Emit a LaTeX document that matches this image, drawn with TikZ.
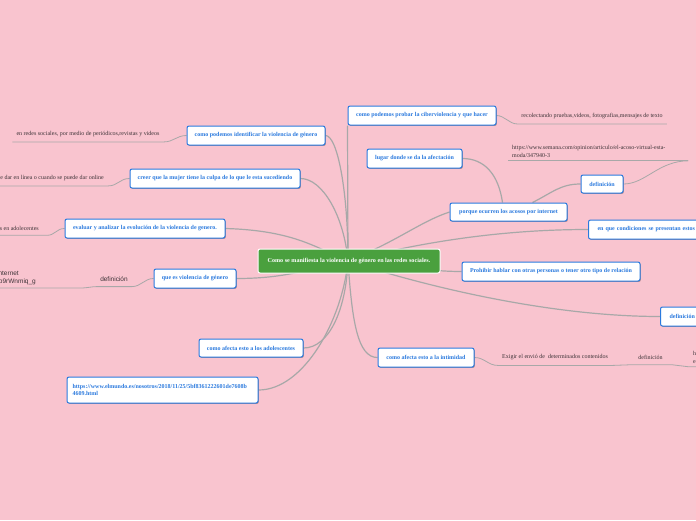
\documentclass[tikz,border=0pt]{standalone}
\usepackage{fontspec}
\setmainfont{Liberation Serif}
\newfontfamily\sanshoja{Liberation Sans}
\usetikzlibrary{shadows}

\definecolor{rosafondo}{RGB}{249,196,207}
\definecolor{azultema}{RGB}{43,122,222}
\definecolor{verdecentro}{RGB}{74,160,62}
\definecolor{gristrazo}{RGB}{168,168,168}
\definecolor{textohoja}{RGB}{62,52,56}

\pgfdeclarelayer{capafondo}
\pgfdeclarelayer{capalineas}
\pgfsetlayers{capafondo,capalineas,main}

\tikzset{
  tema/.style={draw=azultema, line width=1pt, fill=white, rounded corners=2pt,
    text=azultema, font=\fontsize{6}{7.6}\selectfont\bfseries,
    minimum height=19pt, inner xsep=3pt, inner ysep=2pt,
    drop shadow={shadow xshift=0.8pt, shadow yshift=-0.9pt, opacity=0.3, fill=black}},
  centro/.style={draw=white, line width=1pt, fill=verdecentro, rounded corners=2pt,
    text=white, font=\fontsize{6.1}{7.2}\selectfont\bfseries,
    minimum height=24pt, minimum width=182pt},
  hoja/.style={text=textohoja, font=\fontsize{6}{8}\selectfont,
    inner xsep=4pt, inner ysep=5pt},
  rama/.style={draw=gristrazo, line width=1.2pt},
  subraya/.style={draw=gristrazo, line width=0.8pt},
}

\begin{document}
\begin{tikzpicture}[x=1pt,y=-1pt]
    % Fondo
    \begin{pgfonlayer}{capafondo}
      \fill[rosafondo] (0,0) rectangle (696,520);
    \end{pgfonlayer}
    \useasboundingbox (0,0) rectangle (696,520);

    % Tema central
    \node[centro] (central) at (349,261) {Como se manifiesta la violencia de género en las redes sociales.};
    \coordinate (nudo) at (348,261);

    % Ramas de la izquierda
    \node[tema, minimum width=138pt] (identificar) at (256,135.5) {como podemos identificar la violencia de género};
    \node[tema, minimum width=170pt] (culpa) at (215,178.5) {creer que la mujer tiene la culpa de lo que le esta sucediendo};
    \node[tema, minimum width=160pt] (evaluar) at (145,228.5) {evaluar y analizar la evolución de la violencia de genero.};
    \node[tema, minimum width=82pt] (quees) at (195,278.5) {que es violencia de género};
    \node[tema, minimum width=104pt, minimum height=18pt] (adolescentes) at (251,348) {como afecta esto a los adolescentes};
    \node[tema, minimum width=191pt, minimum height=26pt, text width=180pt, align=left] (elmundo) at (162.5,390)
      {https://www.elmundo.es/nosotros/2018/11/25/5bf8361222601de7608b\\4609.html};

    % Ramas de la derecha
    \node[tema, minimum width=148pt] (probar) at (422,115.5) {como podemos probar la ciberviolencia y que hacer};
    \node[tema, minimum width=95pt] (lugar) at (414.5,158.5) {lugar donde se da la afectación};
    \node[tema, minimum width=117pt, minimum height=18pt] (porque) at (508.5,212) {porque ocurren los acosos por internet};
    \node[tema, minimum width=42pt, minimum height=18pt] (defuno) at (602,184) {definición};
    \node[tema, anchor=west, text width=140pt, align=left, inner xsep=9pt] (condiciones) at (588,229.5) {en que condiciones se presentan estos c};
    \node[tema, minimum width=178pt] (prohibir) at (551,271.5) {Prohibir hablar con otras personas o tener otro tipo de relación};
    \node[tema, anchor=west, text width=50pt, align=left, inner xsep=9pt] (defdos) at (660,316.5) {definición};
    \node[tema, minimum width=96pt] (intimidad) at (426,357.5) {como afecta esto a la intimidad};

    % Hojas de texto
    \node[hoja] (redes) at (88,134) {en redes sociales, por medio de periódicos,revistas y videos};
    \node[hoja, anchor=east] (enlinea) at (108,178) {e dar en línea o cuando se puede dar online};
    \node[hoja, anchor=east, inner xsep=8pt] (adolec) at (47,228) {s en adolecentes};
    \node[hoja, font=\fontsize{6.5}{7.5}\sanshoja] (defsans) at (114,279) {definición};
    \node[hoja, anchor=east, font=\fontsize{6.5}{7.5}\sanshoja, inner ysep=1pt] (internet) at (23,273) {internet};
    \node[hoja, anchor=east, font=\fontsize{6.5}{7.5}\sanshoja, inner ysep=1pt] (codigo) at (40,282) {b9rWnmiq\_g};
    \coordinate (pieinternet) at (82,288);
    \coordinate (fininternet) at (-6,288);
    \node[hoja] (recolectando) at (592,116) {recolectando pruebas,videos, fotografias,mensajes de texto};
    \node[hoja, anchor=west, text width=172pt, align=left, inner ysep=3pt] (semana) at (508,151.5)
      {https://www.semana.com/opinion/articulo/el-acoso-virtual-esta-\\moda/347940-3};
    \node[hoja] (exigir) at (555,357.5) {Exigir el envió de \ determinados contenidos};
    \node[hoja, inner xsep=10pt] (defbajo) at (650.5,357.5) {definición};
    \node[hoja, anchor=west, align=left, inner ysep=3pt, text width=20pt] (cortado) at (689,357.5) {h\\e};

    % Conectores
    \begin{pgfonlayer}{capalineas}
      \draw[rama] (identificar.east) .. controls +(12,0) and +(0,-70) .. (nudo);
      \draw[rama] (culpa.east) .. controls +(22,0) and +(-4,-45) .. (nudo);
      \draw[rama] (evaluar.east) .. controls +(70,2) and +(-30,-12) .. (nudo);
      \draw[rama] (quees.east) .. controls +(50,0) and +(-40,8) .. (nudo);
      \draw[rama] (adolescentes.east) .. controls +(25,0) and +(-2,50) .. (nudo);
      \draw[rama] (elmundo.east) .. controls +(45,0) and +(-6,60) .. (nudo);
      \draw[rama] (nudo) -- (probar.south west);
      \draw[rama] (nudo) .. controls +(50,-20) and +(-30,10) .. (porque.west);
      \draw[rama] (nudo) .. controls +(70,-18) and +(-90,0) .. (condiciones.west);
      \draw[rama] (nudo) .. controls +(60,6) and +(-30,0) .. (prohibir.west);
      \draw[rama] (nudo) .. controls +(60,20) and +(-120,0) .. (defdos.west);
      \draw[rama] (nudo) .. controls +(4,60) and +(-20,0) .. (intimidad.west);
      \draw[rama] (lugar.east) .. controls +(22,0) and +(-4,-28) .. ([xshift=-6pt]porque.north);
      \draw[rama] ([xshift=24pt]porque.north) .. controls +(20,-10) and +(-20,0) .. (defuno.west);

      % subrayados de las hojas
      \draw[subraya] (identificar.west) .. controls +(-10,0) and +(10,0) .. (redes.south east) -- (redes.south west);
      \draw[subraya] (culpa.west) .. controls +(-10,0) and +(10,0) .. (enlinea.south east) -- (enlinea.south west);
      \draw[subraya] (evaluar.west) .. controls +(-8,0) and +(8,0) .. (adolec.south east) -- (adolec.south west);
      \draw[subraya] (quees.west) .. controls +(-9,0) and +(9,0) .. (defsans.south east) -- (defsans.south west)
        .. controls +(-4,0) and +(4,0) .. (pieinternet) -- (fininternet);
      \draw[subraya] (probar.east) .. controls +(8,0) and +(-8,0) .. (recolectando.south west) -- (recolectando.south east);
      \draw[subraya] (semana.south west) -- (semana.south east);
      \draw[subraya] (defuno.east) .. controls +(22,0) and +(-30,0) .. (semana.south east);
      \draw[subraya] (intimidad.east) .. controls +(10,0) and +(-10,0) .. (exigir.south west) -- (exigir.south east)
        -- (defbajo.south west) -- (defbajo.south east) .. controls +(8,0) and +(-8,0) .. (cortado.south west) -- (cortado.south east);
    \end{pgfonlayer}
\end{tikzpicture}
\end{document}
